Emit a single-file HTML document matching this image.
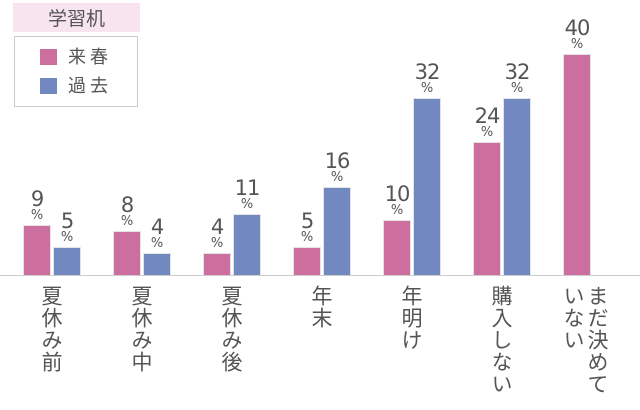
<!DOCTYPE html>
<html><head><meta charset="utf-8"><style>
body{margin:0;width:640px;height:410px;background:#fff;position:relative;overflow:hidden;font-family:"DejaVu Sans","Liberation Sans","Noto Sans CJK JP",sans-serif;color:#555}
.b{position:absolute;box-sizing:border-box;border:1px solid #e4e4e4;border-bottom:none}
.p{background:#cc6f9f}.u{background:#7189c0}
.n{position:absolute;width:40px;text-align:center;font-size:21px;line-height:21px;letter-spacing:-1px}
.n span{display:block;font-size:13px;line-height:12px;letter-spacing:0}
.c{position:absolute;top:285px;writing-mode:vertical-rl;font-size:21px;line-height:24px;letter-spacing:1px;font-family:"Noto Sans CJK JP",sans-serif}
</style></head><body>
<div style="position:absolute;left:13px;top:3px;width:127px;height:29px;background:#f7e4ef;text-align:center;font-size:19px;line-height:29px;font-family:'Noto Sans CJK JP',sans-serif">学習机</div>
<div style="position:absolute;left:14px;top:36px;width:124px;height:71px;border:1px solid #ccc;box-sizing:border-box"></div>
<div style="position:absolute;left:40px;top:49px;width:17px;height:16px" class="p"></div>
<div style="position:absolute;left:40px;top:78px;width:17px;height:16px" class="u"></div>
<div style="position:absolute;left:68px;top:44px;font-size:18px;line-height:24px;font-family:'Noto Sans CJK JP',sans-serif">来 春</div>
<div style="position:absolute;left:68px;top:73px;font-size:18px;line-height:24px;font-family:'Noto Sans CJK JP',sans-serif">過 去</div>
<div style="position:absolute;left:0;top:275px;width:640px;height:1px;background:#ccc"></div>
<div id="g"></div>
<script>
var d=[[9,5,"夏休み前"],[8,4,"夏休み中"],[4,11,"夏休み後"],[5,16,"年末"],[10,32,"年明け"],[24,32,"購入しない"],[40,null,"まだ決めて いない"]];
var s=5.53,h="";
d.forEach(function(r,i){var x=23+i*90;
[[r[0],x,"p"],[r[1],x+30,"u"]].forEach(function(q){if(q[0]==null)return;var ht=Math.round(q[0]*s),t=275-ht;
h+='<div class="b '+q[2]+'" style="left:'+q[1]+'px;top:'+t+'px;width:28px;height:'+ht+'px"></div>';
h+='<div class="n" style="left:'+(q[1]-6)+'px;top:'+(t-36)+'px">'+q[0]+'<span>%</span></div>';});
var lbl=r[2];
if(i==6){h+='<div class="c" style="left:562px">'+lbl.replace(" ","<br>")+'</div>';}
else h+='<div class="c" style="left:'+(x+17)+'px">'+lbl+'</div>';});
document.getElementById("g").innerHTML=h;
</script>
</body></html>
